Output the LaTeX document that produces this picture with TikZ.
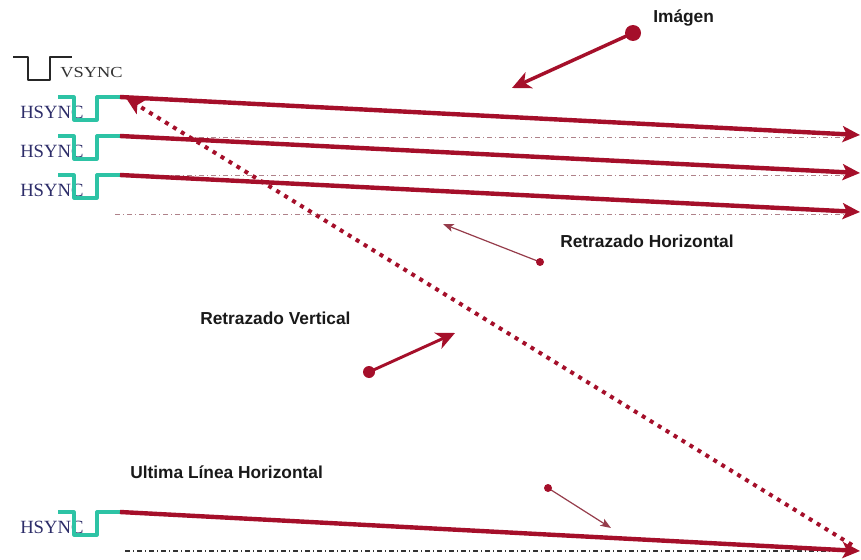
\documentclass[tikz,border=0pt]{standalone}
\usepackage{fontspec}
\usepackage{graphicx}
\setmainfont{Liberation Serif}
\setsansfont{Liberation Sans}
\usetikzlibrary{arrows.meta}
\definecolor{sigred}{RGB}{165,15,42}
\definecolor{wteal}{RGB}{45,195,165}
\definecolor{wnavy}{RGB}{45,45,105}
\definecolor{guidered}{RGB}{175,130,138}
\definecolor{thinred}{RGB}{150,60,75}
\begin{document}
\begin{tikzpicture}[x=0.75pt,y=-0.75pt,
  wave/.style={wteal, line width=2.4pt, line join=round},
  vwave/.style={black!85, line width=2.2pt, line join=round},
  scan/.style={sigred, line width=3.3pt, -{Stealth[length=13pt,width=12pt,inset=3pt]}},
  guide/.style={guidered, line width=0.7pt, dash pattern=on 4pt off 2pt on 1pt off 2pt},
  guideblk/.style={black!80, line width=0.8pt, dash pattern=on 4pt off 2pt on 1pt off 2pt},
  retrace/.style={sigred, line width=3pt, dash pattern=on 3pt off 4pt, -{Stealth[length=13pt,width=12pt,inset=3pt]}},
  bigarrow/.style={sigred, line width=2.6pt, -{Stealth[length=14pt,width=13pt,inset=4pt]}},
  thinarrow/.style={thinred, line width=0.9pt, -{Stealth[length=8pt,width=6pt,inset=2pt]}},
  lbl/.style={font=\sffamily\bfseries\fontsize{13}{15}\selectfont, inner sep=0pt, anchor=west, text=black!90},
  hs/.style={text=wnavy, font=\fontsize{14}{16}\selectfont, inner sep=0pt, anchor=west},
  vs/.style={text=black!80, font=\fontsize{11.5}{13}\selectfont, inner sep=0pt, anchor=west}
]
\useasboundingbox[fill=white] (0,0) rectangle (861,560);

% VSYNC
\draw[vwave] (13,57) -- (28,57) -- (28,80) -- (50,80) -- (50,57) -- (72,57);
\node[vs] (vsync) at (60,73) {\scalebox{1.2}[1]{VSYNC}};

% guide lines
\draw[guide] (115,137) -- (850,137);
\draw[guide] (115,175) -- (850,175);
\draw[guide] (115,214) -- (850,214);
\draw[guideblk] (125,551) -- (850,551);

% HSYNC waveforms
\foreach \i/\t in {1/97,2/136,3/175,4/512} {
  \node[hs] (hs\i) at (20,\t+15) {HSYNC};
  \draw[wave] (58,\t) -- (74,\t) -- (74,\t+23) -- (97,\t+23) -- (97,\t) -- (120,\t);
  \coordinate (w\i) at (120,\t);
}
\coordinate (e1) at (860,135);
\coordinate (e2) at (860,173);
\coordinate (e3) at (860,212);
\coordinate (e4) at (860,551);

% scan lines
\draw[scan] (w1) -- (e1);
\draw[scan] (w2) -- (e2);
\draw[scan] (w3) -- (e3);
\draw[scan] (w4) -- (e4);

% vertical retrace
\coordinate (rs) at (852,545);
\coordinate (rt) at (126,98);
\draw[retrace] (rs) -- (rt);

% Imagen
\node[lbl] (img) at (653,18) {Imágen};
\coordinate (imgdot) at (633,33);
\coordinate (imgtip) at (512,88);
\draw[bigarrow] (imgdot) -- (imgtip);
\fill[sigred] (imgdot) circle (8);

% Retrazado Horizontal
\node[lbl] (rh) at (560,241) {Retrazado Horizontal};
\coordinate (rhdot) at (540,262);
\coordinate (rhtip) at (443,224);
\draw[thinarrow] (rhdot) -- (rhtip);
\fill[sigred] (rhdot) circle (4);

% Retrazado Vertical
\node[lbl] (rv) at (200,318) {Retrazado Vertical};
\coordinate (rvdot) at (369,372);
\coordinate (rvtip) at (455,333);
\draw[bigarrow, line width=2.2pt] (rvdot) -- (rvtip);
\fill[sigred] (rvdot) circle (6);

% Ultima Linea Horizontal
\node[lbl] (ul) at (130,472) {Ultima Línea Horizontal};
\coordinate (uldot) at (548,488);
\coordinate (ultip) at (611,528);
\draw[thinarrow] (uldot) -- (ultip);
\fill[sigred] (uldot) circle (4);
\end{tikzpicture}
\end{document}
